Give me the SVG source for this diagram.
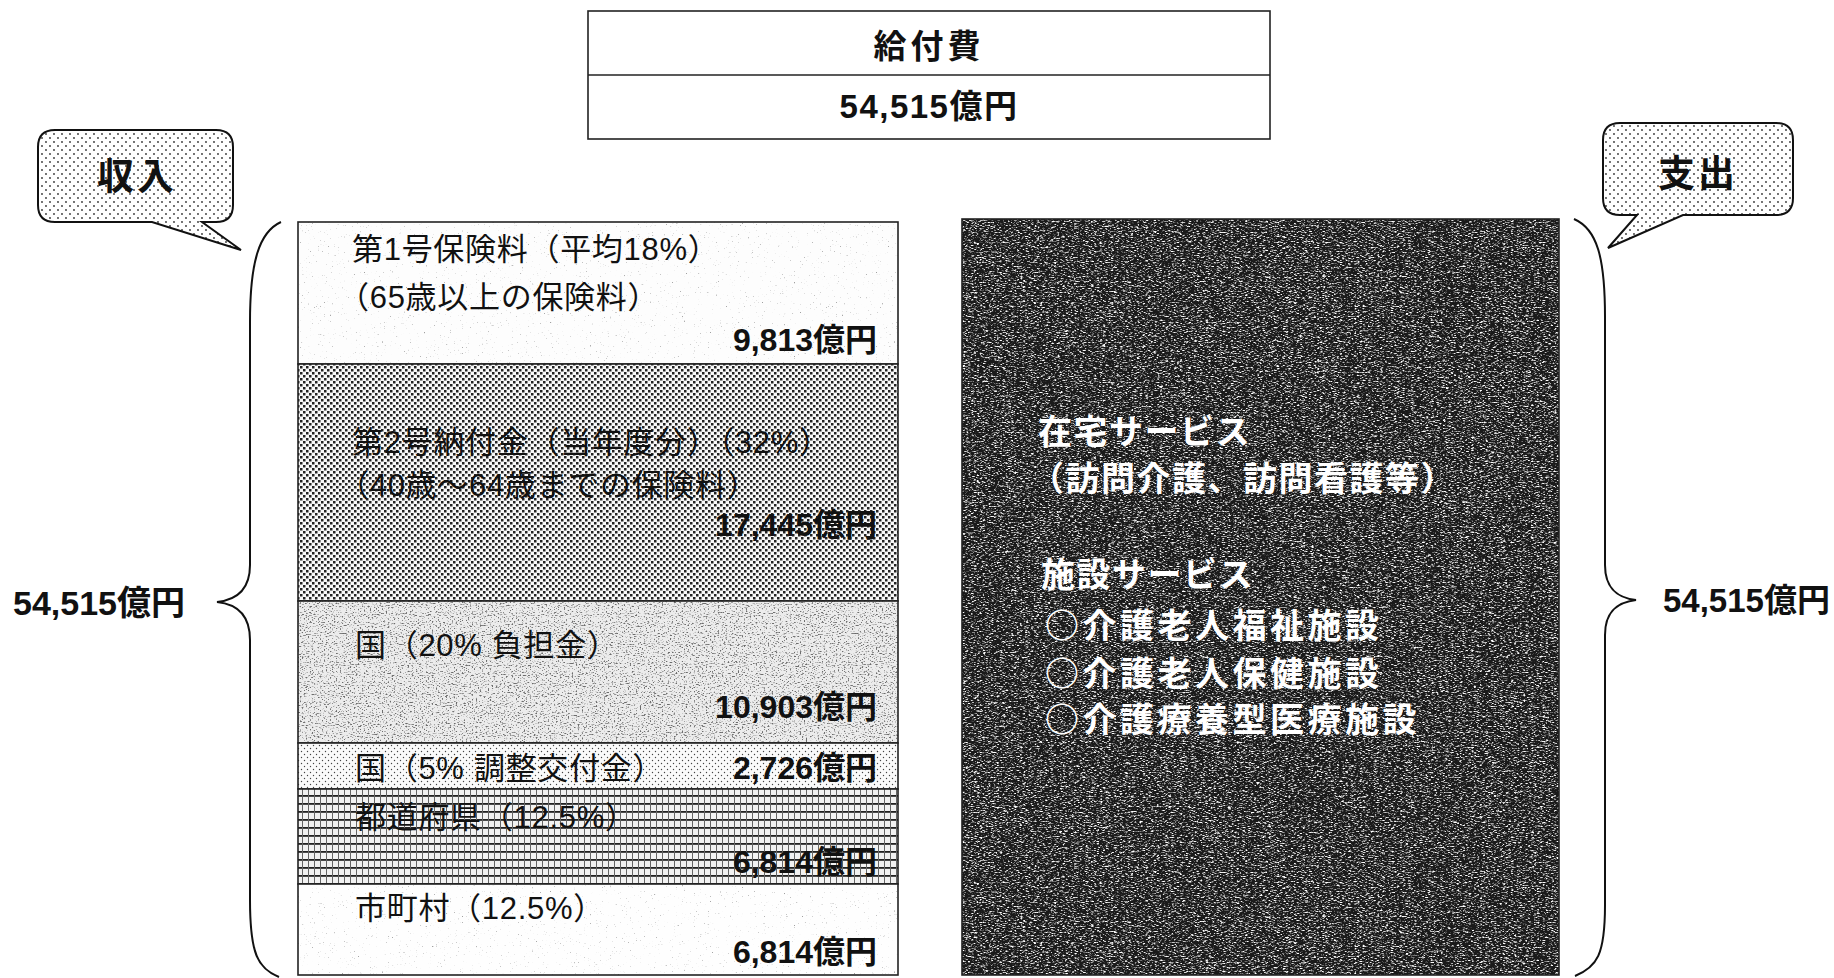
<svg xmlns="http://www.w3.org/2000/svg" width="1834" height="978" viewBox="0 0 1834 978">
<style>
text{font-family:'Liberation Sans','Noto Sans CJK JP',sans-serif;fill:#111;dominant-baseline:central}
.lbl{font-size:31px;letter-spacing:0.7px}
.amt{font-size:32px;font-weight:bold;text-anchor:end}
.big{font-size:33px;font-weight:bold}
.wt{font-size:34px;font-weight:bold;fill:#fff;letter-spacing:1.5px}
.cj{font-family:'Noto Sans CJK JP',sans-serif;letter-spacing:3.5px}
.box{fill:none;stroke:#222;stroke-width:1.6}
.brace{fill:none;stroke:#111;stroke-width:2}
.bub{fill:url(#pDots);stroke:#111;stroke-width:2}
</style>
<defs>
<pattern id="pDots" width="8" height="8" patternUnits="userSpaceOnUse">
<rect width="8" height="8" fill="#fff"/>
<circle cx="2" cy="2" r="0.9" fill="#333"/><circle cx="6" cy="6" r="0.9" fill="#333"/>
</pattern>
<pattern id="pCheck" width="6" height="6" patternUnits="userSpaceOnUse">
<rect width="6" height="6" fill="#f8f8f8"/>
<rect x="0" y="0" width="2.5" height="2.5" fill="#222"/><rect x="3" y="3" width="2.5" height="2.5" fill="#222"/>
</pattern>
<pattern id="pSparse" width="6" height="6" patternUnits="userSpaceOnUse">
<rect width="6" height="6" fill="#fafafa"/>
<circle cx="1.5" cy="1.5" r="0.7" fill="#444"/><circle cx="4.5" cy="4.5" r="0.7" fill="#444"/>
</pattern>
<pattern id="pGrid" width="6" height="8" patternUnits="userSpaceOnUse">
<rect width="6" height="8" fill="#f2f2f2"/>
<rect x="0" y="3" width="6" height="1.8" fill="#222"/>
<rect x="2" y="0" width="1" height="8" fill="#666"/>
</pattern>
<filter id="nLight" x="0" y="0" width="1" height="1">
<feTurbulence type="fractalNoise" baseFrequency="0.5 0.9" numOctaves="2" seed="4"/>
<feColorMatrix type="matrix" values="0 0 0 0 0.35  0 0 0 0 0.35  0 0 0 0 0.35  -6 0 0 0 1.75"/>
</filter>
<filter id="nMid" x="0" y="0" width="1" height="1">
<feTurbulence type="fractalNoise" baseFrequency="0.5 0.9" numOctaves="2" seed="9"/>
<feColorMatrix type="matrix" values="0 0 0 0 0.15  0 0 0 0 0.15  0 0 0 0 0.15  -5 0 0 0 2.3"/>
</filter>
<filter id="nDark" x="0" y="0" width="1" height="1">
<feTurbulence type="fractalNoise" baseFrequency="0.35 1.2" numOctaves="2" seed="7"/>
<feColorMatrix type="matrix" values="0 0 0 0 1  0 0 0 0 1  0 0 0 0 1  4 0 0 0 -2.0"/>
</filter>
</defs>

<g id="kyufuhi">
<rect x="588" y="11" width="682" height="128" fill="#fff" class="box"/>
<line x1="588" y1="75" x2="1270" y2="75" class="box"/>
<text x="929" y="46" class="big" text-anchor="middle" letter-spacing="4">給付費</text>
<text x="929" y="106" class="big" text-anchor="middle" letter-spacing="1.5">54,515億円</text>
</g>

<g id="bubble-income">
<path class="bub" d="M55 130 H216 Q233 130 233 147 V205 Q233 222 216 222 H202 L241 250 L152 222 H55 Q38 222 38 205 V147 Q38 130 55 130 Z"/>
<text x="137" y="177" font-size="37" font-weight="bold" text-anchor="middle" letter-spacing="3">収入</text>
</g>

<g id="bubble-expense">
<path class="bub" d="M1620 123 H1776 Q1793 123 1793 140 V198 Q1793 215 1776 215 H1683 L1608 248 L1637 215 H1620 Q1603 215 1603 198 V140 Q1603 123 1620 123 Z"/>
<text x="1698" y="174" font-size="37" font-weight="bold" text-anchor="middle" letter-spacing="3">支出</text>
</g>

<g id="total-left">
<text x="13" y="603" font-size="34" font-weight="bold">54,515億円</text>
</g>
<g id="total-right">
<text x="1663" y="600" font-size="33" font-weight="bold">54,515億円</text>
</g>

<g id="sec1">
<rect x="298" y="222" width="600" height="142" fill="#fdfdfd"/>
<rect x="298" y="222" width="600" height="142" filter="url(#nLight)"/>
<rect x="298" y="222" width="600" height="142" class="box"/>
<text x="352" y="249" class="lbl">第1号保険料（平均18%）</text>
<text x="338" y="297" class="lbl">（65歳以上の保険料）</text>
<text x="877" y="340" class="amt">9,813億円</text>
</g>
<g id="sec2">
<rect x="298" y="364" width="600" height="237" fill="url(#pCheck)"/>
<rect x="298" y="364" width="600" height="237" class="box"/>
<text x="352" y="442" class="lbl">第2号納付金（当年度分）（32%）</text>
<text x="338" y="485" class="lbl">（40歳～64歳までの保険料）</text>
<text x="877" y="525" class="amt">17,445億円</text>
</g>
<g id="sec3">
<rect x="298" y="601" width="600" height="142" fill="#ececec"/>
<rect x="298" y="601" width="600" height="142" filter="url(#nMid)"/>
<rect x="298" y="601" width="600" height="142" class="box"/>
<text x="355" y="645" class="lbl">国（20% 負担金）</text>
<text x="877" y="707" class="amt">10,903億円</text>
</g>
<g id="sec4">
<rect x="298" y="743" width="600" height="46" fill="url(#pSparse)"/>
<rect x="298" y="743" width="600" height="46" class="box"/>
<text x="355" y="768" class="lbl">国（5% 調整交付金）</text>
<text x="877" y="768" class="amt">2,726億円</text>
</g>
<g id="sec5">
<rect x="298" y="789" width="600" height="95" fill="url(#pGrid)"/>
<rect x="298" y="789" width="600" height="95" class="box"/>
<text x="355" y="817" class="lbl">都道府県（12.5%）</text>
<text x="877" y="862" class="amt">6,814億円</text>
</g>
<g id="sec6">
<rect x="298" y="884" width="600" height="91" fill="#fefefe"/>
<rect x="298" y="884" width="600" height="91" filter="url(#nLight)"/>
<rect x="298" y="884" width="600" height="91" class="box"/>
<text x="355" y="908" class="lbl">市町村（12.5%）</text>
<text x="877" y="952" class="amt">6,814億円</text>
</g>

<g id="expenditure">
<rect x="962" y="219" width="597" height="756" fill="#1a1a1a"/>
<rect x="962" y="219" width="597" height="756" filter="url(#nDark)"/>
<rect x="962" y="219" width="597" height="756" class="box"/>
<text x="1038" y="432" class="wt">在宅サービス</text>
<text x="1030" y="479" class="wt">（訪問介護、訪問看護等）</text>
<text x="1041" y="575" class="wt">施設サービス</text>
<text x="1045" y="623" class="wt cj">○介護老人福祉施設</text>
<text x="1045" y="671" class="wt cj">○介護老人保健施設</text>
<text x="1045" y="717" class="wt cj">○介護療養型医療施設</text>
</g>

<g id="connectors">
<path class="brace" d="M281 222 C259 232 250 262 250 322 L250 565 C250 590 236 600 217 602 C236 604 250 614 250 640 L250 900 C250 955 258 968 279 977"/>
<path class="brace" d="M1574 219 C1597 229 1605 257 1605 317 L1605 565 C1605 590 1619 598 1636 600 C1619 602 1605 610 1605 635 L1605 905 C1605 955 1597 967 1575 976"/>
</g>
</svg>
